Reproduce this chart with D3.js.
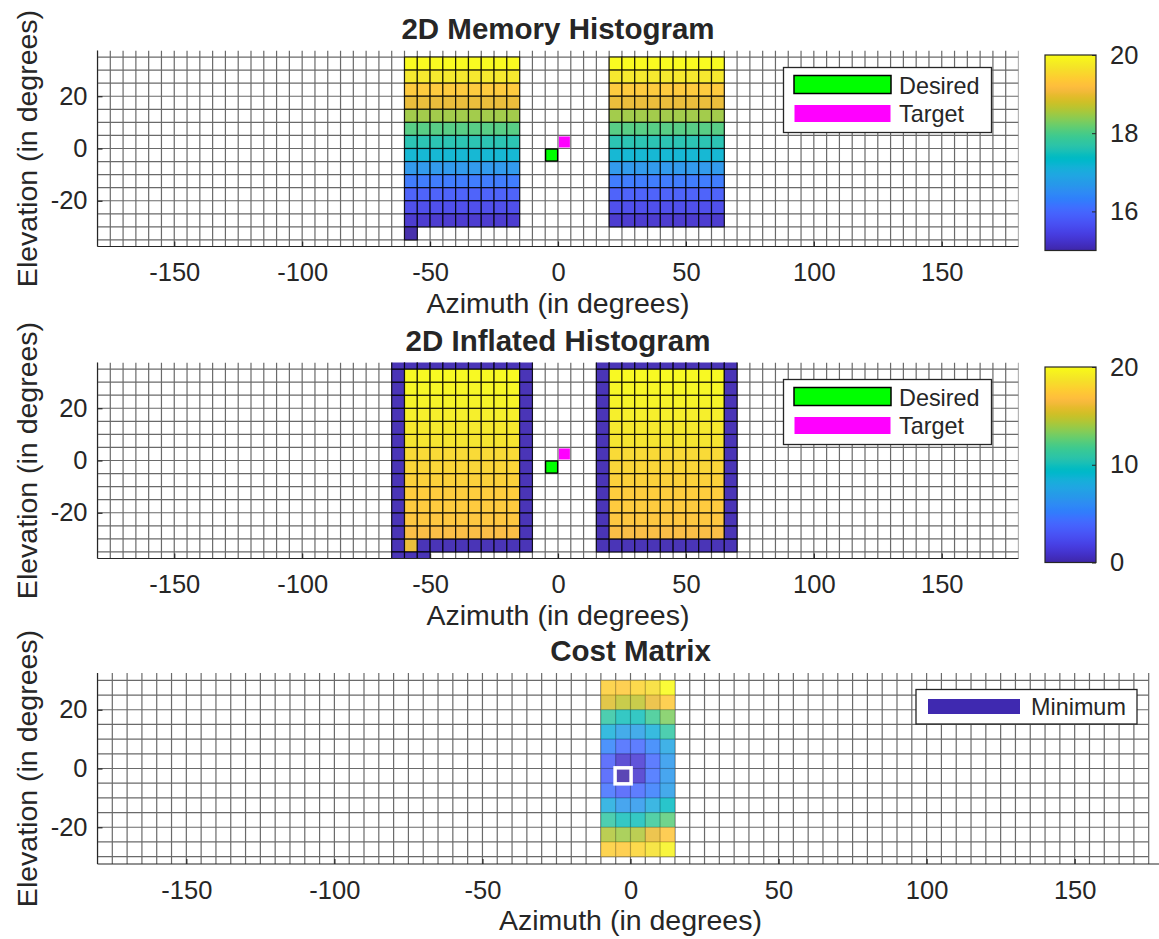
<!DOCTYPE html>
<html><head><meta charset="utf-8">
<script src="https://cdn.jsdelivr.net/npm/d3@7"></script>
<style>
body{margin:0;background:#fff}
svg{display:block}
text{font-family:"Liberation Sans",Arial,Helvetica,sans-serif;fill:#262626}
</style>
</head><body>
<svg id="c" width="1159" height="939"></svg>
<script>
// ================= DATA =================
const azTicks = [-150, -100, -50, 0, 50, 100, 150];
const elTicks = [-20, 0, 20];

// 2D Memory Histogram: rows given by lower elevation edge (deg), top to bottom
const memRowEl = [30, 25, 20, 15, 10, 5, 0, -5, -10, -15, -20, -25, -30];
const memRowValues = [20.0, 19.75, 19.35, 19.0, 18.5, 18.05, 17.6, 17.2, 16.65, 16.2, 15.85, 15.55, 15.25];
const memBlocks = [[-60, -15], [20, 65]];            // azimuth spans (deg)
const memExtraCells = [[-60, -35, 15.0]];            // [az, el, value]
const memCbarTicks = [16, 18, 20];
const memCbarDomain = [15, 20];

// 2D Inflated Histogram
const infRowEl = [30, 25, 20, 15, 10, 5, 0, -5, -10, -15, -20, -25, -30];
const infRowValues = [19.9, 19.7, 19.5, 19.3, 19.0, 18.8, 18.2, 18.0, 17.8, 17.5, 17.4, 17.2, 16.6];
const infBlocks = [[-65, -10], [15, 70]];             // outer azimuth spans incl. border
const infBorderEl = [-35, 40];                        // outer elevation span incl. border
const infBorderValue = 0.3;
const infExtraCells = [[-60, -35, 16.0], [-65, -40, 0.3], [-60, -40, 0.3], [-55, -40, 0.3]];
const infCbarTicks = [0, 10, 20];
const infCbarDomain = [0, 20];

// Cost Matrix (normalised cost), columns = azimuth lower edges, rows = elevation lower edges
const costAz = [-10, -5, 0, 5, 10];
const costEl = [25, 20, 15, 10, 5, 0, -5, -10, -15, -20, -25, -30];
const costValues = [
  [0.88, 0.87, 0.90, 0.92, 1.00],
  [0.78, 0.74, 0.74, 0.80, 0.87],
  [0.55, 0.50, 0.50, 0.58, 0.66],
  [0.42, 0.36, 0.36, 0.42, 0.55],
  [0.27, 0.20, 0.20, 0.27, 0.38],
  [0.17, 0.05, 0.06, 0.20, 0.33],
  [0.17, 0.00, 0.05, 0.22, 0.33],
  [0.22, 0.17, 0.20, 0.25, 0.35],
  [0.40, 0.33, 0.33, 0.40, 0.48],
  [0.55, 0.50, 0.50, 0.57, 0.62],
  [0.72, 0.70, 0.72, 0.80, 0.86],
  [0.88, 0.87, 0.90, 0.93, 0.98]
];

const desiredDir = [-2.5, -2.5];
const targetDir = [2.5, 2.5];
const minimumDir = [-2.5, -2.5];

// ================= COLORMAP (parula, 64) =================
const parula64 = [
[0.2422,0.1504,0.6603],[0.2504,0.1650,0.7076],[0.2578,0.1818,0.7511],[0.2647,0.1978,0.7952],
[0.2706,0.2147,0.8364],[0.2751,0.2342,0.8710],[0.2783,0.2559,0.8991],[0.2803,0.2782,0.9221],
[0.2813,0.3006,0.9414],[0.2810,0.3228,0.9579],[0.2795,0.3447,0.9717],[0.2760,0.3667,0.9829],
[0.2699,0.3892,0.9906],[0.2602,0.4123,0.9952],[0.2440,0.4358,0.9988],[0.2206,0.4603,0.9973],
[0.1963,0.4847,0.9892],[0.1834,0.5074,0.9798],[0.1786,0.5289,0.9682],[0.1764,0.5499,0.9520],
[0.1687,0.5703,0.9359],[0.1540,0.5902,0.9218],[0.1460,0.6091,0.9079],[0.1380,0.6276,0.8973],
[0.1248,0.6459,0.8883],[0.1113,0.6635,0.8763],[0.0952,0.6798,0.8598],[0.0689,0.6948,0.8394],
[0.0297,0.7082,0.8163],[0.0036,0.7203,0.7917],[0.0067,0.7312,0.7660],[0.0433,0.7411,0.7394],
[0.0964,0.7500,0.7120],[0.1408,0.7584,0.6842],[0.1717,0.7670,0.6554],[0.1938,0.7758,0.6251],
[0.2161,0.7843,0.5923],[0.2470,0.7918,0.5567],[0.2906,0.7973,0.5188],[0.3406,0.8008,0.4789],
[0.3909,0.8029,0.4354],[0.4456,0.8024,0.3909],[0.5044,0.7993,0.3480],[0.5616,0.7942,0.3045],
[0.6174,0.7876,0.2612],[0.6720,0.7793,0.2227],[0.7242,0.7698,0.1910],[0.7738,0.7598,0.1646],
[0.8203,0.7498,0.1535],[0.8634,0.7406,0.1596],[0.9035,0.7330,0.1774],[0.9393,0.7288,0.2100],
[0.9728,0.7298,0.2394],[0.9956,0.7434,0.2371],[0.9970,0.7659,0.2199],[0.9952,0.7893,0.2028],
[0.9892,0.8136,0.1885],[0.9786,0.8386,0.1766],[0.9676,0.8639,0.1643],[0.9610,0.8890,0.1537],
[0.9597,0.9135,0.1423],[0.9628,0.9373,0.1265],[0.9691,0.9606,0.1064],[0.9769,0.9839,0.0805]
].map(c => d3.rgb(c[0]*255, c[1]*255, c[2]*255).toString());
const parula = d3.scaleLinear().domain(d3.range(64).map(i => i/63)).range(parula64).interpolate(d3.interpolateRgb).clamp(true);

// ================= BUILD CELLS =================
const memCells = [];
memBlocks.forEach(([a0, a1]) => {
  memRowEl.forEach((el, i) => {
    for (let az = a0; az < a1; az += 5) memCells.push({az, el, v: memRowValues[i]});
  });
});
memExtraCells.forEach(([az, el, v]) => memCells.push({az, el, v}));

const infCells = [];
infBlocks.forEach(([a0, a1]) => {
  for (let az = a0; az < a1; az += 5) {
    for (let el = infBorderEl[0]; el < infBorderEl[1]; el += 5) {
      const border = (az === a0 || az === a1 - 5 || el === infBorderEl[0] || el === infBorderEl[1] - 5);
      let v = infBorderValue;
      if (!border) v = infRowValues[infRowEl.indexOf(el)];
      infCells.push({az, el, v});
    }
  }
});
infExtraCells.forEach(([az, el, v]) => {
  const ex = infCells.find(c => c.az === az && c.el === el);
  if (ex) ex.v = v; else infCells.push({az, el, v});
});

const costCells = [];
costEl.forEach((el, i) => costAz.forEach((az, j) => costCells.push({az, el, v: costValues[i][j]})));

// ================= DRAW =================
const svg = d3.select('#c');
const defs = svg.append('defs');
const gridColor = '#6a6a6a';
const axisColor = '#262626';
const FONT = '"Liberation Sans",Arial,sans-serif';
const TICK_FS = 25.5, LABEL_FS = 28.5, TITLE_FS = 29.5, LEG_FS = 23.4;
const fmt = d => String(d);

function panel(o) {
  const g = svg.append('g');
  const x = d3.scaleLinear().domain([-180, 180]).range([o.left, o.right]);
  const y = d3.scaleLinear().domain(o.yDom).range([o.bottom, o.top]);
  const clipId = 'clip' + o.id;
  defs.append('clipPath').attr('id', clipId).append('rect')
    .attr('x', o.left).attr('y', o.top).attr('width', o.right - o.left).attr('height', o.bottom - o.top);
  const pg = g.append('g').attr('clip-path', `url(#${clipId})`);

  const gx0 = x(o.gridAz[0]), gx1 = x(o.gridAz[1]);
  const vLines = d3.range(o.gridAz[0], o.gridAz[1] + 0.01, 5);
  const hLines = d3.range(Math.ceil(o.yDom[0] / 5) * 5, o.yDom[1] + 0.01, 5);

  pg.append('g').selectAll('line').data(vLines).join('line')
    .attr('x1', d => x(d)).attr('x2', d => x(d)).attr('y1', o.top).attr('y2', o.bottom)
    .attr('stroke', gridColor).attr('stroke-width', 1.2);
  pg.append('g').selectAll('line').data(hLines).join('line')
    .attr('x1', gx0).attr('x2', gx1).attr('y1', d => y(d)).attr('y2', d => y(d))
    .attr('stroke', gridColor).attr('stroke-width', 1.2);

  pg.append('g').selectAll('rect').data(o.cells).join('rect')
    .attr('x', d => x(d.az)).attr('y', d => y(d.el + 5))
    .attr('width', d => x(d.az + 5) - x(d.az)).attr('height', d => y(d.el) - y(d.el + 5))
    .attr('fill', d => o.color(d.v))
    .attr('fill-opacity', o.cellOpacity)
    .attr('stroke', o.cellStroke).attr('stroke-opacity', o.cellStrokeOpacity).attr('stroke-width', 1.2);

  // axes
  const xAxis = d3.axisBottom(x).tickValues(azTicks).tickFormat(fmt).tickSizeInner(-5).tickSizeOuter(0).tickPadding(16.5);
  const yAxis = d3.axisLeft(y).tickValues(elTicks).tickFormat(fmt).tickSizeInner(-5).tickSizeOuter(0).tickPadding(10);
  const gxA = g.append('g').attr('transform', `translate(0,${o.bottom})`).call(xAxis);
  const gyA = g.append('g').attr('transform', `translate(${o.left},0)`).call(yAxis);
  [gxA, gyA].forEach(a => {
    a.select('.domain').attr('stroke', axisColor).attr('stroke-width', 1.2);
    a.selectAll('.tick line').attr('stroke', axisColor).attr('stroke-width', 1.2);
    a.selectAll('.tick text').attr('font-size', TICK_FS).attr('fill', axisColor).attr('font-family', FONT);
  });
  gyA.select('.domain').attr('d', `M0,${o.top}V${o.bottom}`);
  gxA.select('.domain').attr('d', `M${o.left},0H${o.right}`);

  // labels
  const cx = (o.left + o.right) / 2;
  g.append('text').attr('x', cx).attr('y', o.bottom + 66).attr('text-anchor', 'middle')
    .attr('font-size', LABEL_FS).text('Azimuth (in degrees)');
  g.append('text').attr('transform', `translate(${o.ylabelX},${(o.top + o.bottom) / 2}) rotate(-90)`)
    .attr('text-anchor', 'middle').attr('font-size', LABEL_FS).text('Elevation (in degrees)');
  g.append('text').attr('x', cx).attr('y', o.top - 12).attr('text-anchor', 'middle')
    .attr('font-size', TITLE_FS).attr('font-weight', 'bold').attr('fill', '#000').text(o.title);

  return {g, x, y};
}

function markers(p) {
  const s1 = 12, s2 = 11;
  p.g.append('rect').attr('x', p.x(desiredDir[0]) - s1/2).attr('y', p.y(desiredDir[1]) - s1/2)
    .attr('width', s1).attr('height', s1).attr('fill', '#00ff00').attr('stroke', '#000').attr('stroke-width', 1.3);
  p.g.append('rect').attr('x', p.x(targetDir[0]) - s2/2).attr('y', p.y(targetDir[1]) - s2/2)
    .attr('width', s2).attr('height', s2).attr('fill', '#ff00ff');
}

function legend2(top) {
  const lg = svg.append('g');
  lg.append('rect').attr('x', 783.5).attr('y', top + 0.5).attr('width', 208).attr('height', 65)
    .attr('fill', '#fff').attr('stroke', axisColor).attr('stroke-width', 1.3);
  lg.append('rect').attr('x', 794).attr('y', top + 8.5).attr('width', 97).attr('height', 18)
    .attr('fill', '#00ff00').attr('stroke', '#000').attr('stroke-width', 1.5);
  lg.append('rect').attr('x', 794.5).attr('y', top + 38).attr('width', 96).attr('height', 17)
    .attr('fill', '#ff00ff');
  lg.append('text').attr('x', 899).attr('y', top + 26.5).attr('font-size', LEG_FS).text('Desired');
  lg.append('text').attr('x', 899).attr('y', top + 54.5).attr('font-size', LEG_FS).text('Target');
}

function colorbar(o) {
  const id = 'cb' + o.id;
  const lin = defs.append('linearGradient').attr('id', id).attr('x1', 0).attr('y1', 1).attr('x2', 0).attr('y2', 0);
  d3.range(0, 1.0001, 1/63).forEach(t => lin.append('stop').attr('offset', t).attr('stop-color', parula(t)));
  const g = svg.append('g');
  g.append('rect').attr('x', o.left).attr('y', o.top).attr('width', o.width).attr('height', o.bottom - o.top)
    .attr('fill', `url(#${id})`).attr('stroke', axisColor).attr('stroke-width', 1.2);
  const s = d3.scaleLinear().domain(o.domain).range([o.bottom, o.top]);
  const ax = d3.axisRight(s).tickValues(o.ticks).tickFormat(fmt).tickSizeInner(-4).tickSizeOuter(0).tickPadding(14);
  const ga = g.append('g').attr('transform', `translate(${o.left + o.width},0)`).call(ax);
  ga.select('.domain').remove();
  ga.selectAll('.tick line').attr('stroke', axisColor);
  ga.selectAll('.tick text').attr('font-size', TICK_FS).attr('fill', axisColor).attr('font-family', FONT);
}

// Panel 1
const memColor = v => parula((v - memCbarDomain[0]) / (memCbarDomain[1] - memCbarDomain[0]));
const p1 = panel({id: 1, left: 97.5, right: 1018.5, top: 50.5, bottom: 246.5, yDom: [-37.5, 37.5],
  gridAz: [-180, 180], cells: memCells, color: memColor, cellOpacity: 0.95, cellStroke: '#000', cellStrokeOpacity: 0.8,
  title: '2D Memory Histogram', ylabelX: 37});
markers(p1);
legend2(67);
colorbar({id: 1, left: 1045, width: 51, top: 55, bottom: 250.5, domain: memCbarDomain, ticks: memCbarTicks});

// Panel 2
const infColor = v => parula((v - infCbarDomain[0]) / (infCbarDomain[1] - infCbarDomain[0]));
const p2 = panel({id: 2, left: 97.5, right: 1018.5, top: 362.5, bottom: 558.5, yDom: [-37.5, 37.5],
  gridAz: [-180, 180], cells: infCells, color: infColor, cellOpacity: 0.95, cellStroke: '#000', cellStrokeOpacity: 0.8,
  title: '2D Inflated Histogram', ylabelX: 37});
markers(p2);
legend2(379);
colorbar({id: 2, left: 1045, width: 51, top: 367, bottom: 562.5, domain: infCbarDomain, ticks: infCbarTicks});

// Panel 3
const costColor = v => parula(v);
const p3 = panel({id: 3, left: 97.5, right: 1163.5, top: 673, bottom: 864, yDom: [-32.5, 32.5],
  gridAz: [-180, 175], cells: costCells, color: costColor, cellOpacity: 0.85, cellStroke: '#000', cellStrokeOpacity: 0.08,
  title: 'Cost Matrix', ylabelX: 37});
// minimum marker
p3.g.append('rect').attr('x', p3.x(minimumDir[0]) - 8).attr('y', p3.y(minimumDir[1]) - 8)
  .attr('width', 16).attr('height', 16).attr('fill', 'none').attr('stroke', '#fff').attr('stroke-width', 3.5);
// legend 3
const lg3 = svg.append('g');
lg3.append('rect').attr('x', 916).attr('y', 689.5).attr('width', 221).attr('height', 34.5)
  .attr('fill', '#fff').attr('stroke', axisColor).attr('stroke-width', 1.3);
lg3.append('rect').attr('x', 928).attr('y', 699).attr('width', 92).attr('height', 15).attr('fill', parula(0.01));
lg3.append('text').attr('x', 1031).attr('y', 714.5).attr('font-size', LEG_FS).text('Minimum');
</script>
</body></html>
